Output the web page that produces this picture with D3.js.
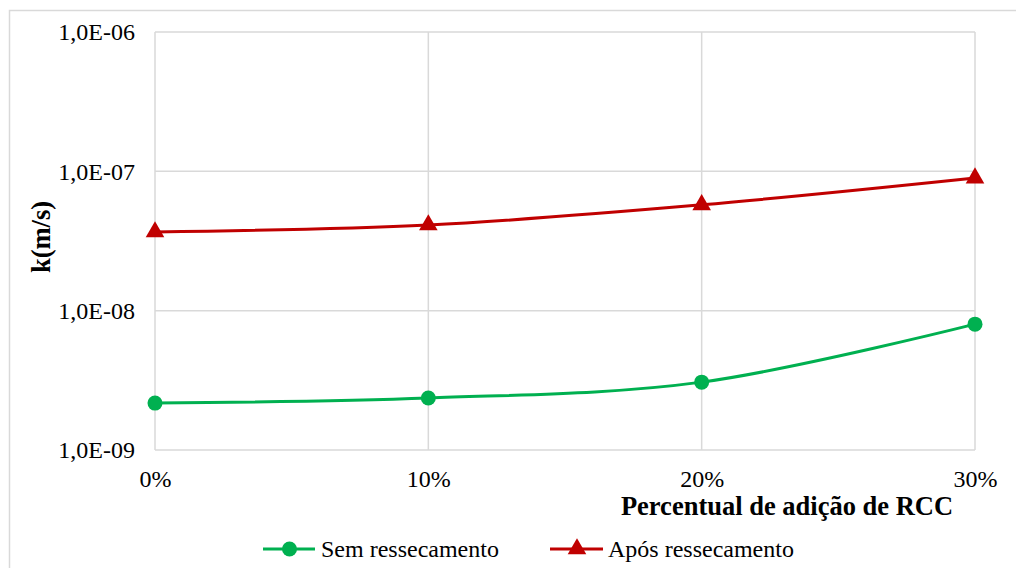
<!DOCTYPE html>
<html>
<head>
<meta charset="utf-8">
<script src="https://cdn.jsdelivr.net/npm/d3@7"></script>
</head>
<body style="margin:0; background:#fff">
<script>
var categories = ["0%", "10%", "20%", "30%"];
var semRessecamento = [2.17e-9, 2.36e-9, 3.07e-9, 8.0e-9];
var aposRessecamento = [3.67e-8, 4.12e-8, 5.75e-8, 8.95e-8];
var yTicks = [1e-9, 1e-8, 1e-7, 1e-6];
var yTickLabels = ["1,0E-09", "1,0E-08", "1,0E-07", "1,0E-06"];

var FONT = "'Liberation Serif', 'Times New Roman', serif";
var W = 1016, H = 568;
var margin = { left: 155, top: 32, right: W - 975, bottom: H - 450 };
var width = W - margin.left - margin.right;
var height = H - margin.top - margin.bottom;

var svg = d3.select("body").append("svg")
  .attr("width", W)
  .attr("height", H);

// outer chart border
svg.append("rect")
  .attr("x", 9.5).attr("y", 10.5)
  .attr("width", W).attr("height", H)
  .attr("fill", "none")
  .attr("stroke", "#d9d9d9")
  .attr("stroke-width", 1.5);

var g = svg.append("g")
  .attr("transform", "translate(" + margin.left + "," + margin.top + ")");

var xScale = d3.scalePoint().domain(categories).range([0, width]);
var yScale = d3.scaleLog().domain([1e-9, 1e-6]).range([height, 0]);

// gridlines
g.append("g").selectAll("line").data(yTicks).join("line")
  .attr("x1", 0).attr("x2", width)
  .attr("y1", d => yScale(d)).attr("y2", d => yScale(d))
  .attr("stroke", "#d9d9d9").attr("stroke-width", 1.5);

g.append("g").selectAll("line").data(categories).join("line")
  .attr("x1", d => xScale(d)).attr("x2", d => xScale(d))
  .attr("y1", 0).attr("y2", height)
  .attr("stroke", "#d9d9d9").attr("stroke-width", 1.5);

// axes (labels only)
var yAxis = d3.axisLeft(yScale)
  .tickValues(yTicks)
  .tickFormat((d, i) => yTickLabels[i])
  .tickSize(0)
  .tickPadding(20);

var yAxisG = g.append("g").call(yAxis);
yAxisG.select(".domain").remove();
yAxisG.selectAll("text")
  .style("font-family", FONT)
  .style("font-size", "24px")
  .attr("fill", "#000");

var xAxis = d3.axisBottom(xScale).tickSize(0).tickPadding(20);

var xAxisG = g.append("g")
  .attr("transform", "translate(0," + height + ")")
  .call(xAxis);
xAxisG.select(".domain").remove();
xAxisG.selectAll("text")
  .style("font-family", FONT)
  .style("font-size", "24px")
  .attr("fill", "#000");

// axis titles
svg.append("text")
  .attr("x", 787).attr("y", 515)
  .attr("text-anchor", "middle")
  .style("font-family", FONT)
  .style("font-weight", "bold")
  .style("font-size", "26.5px")
  .text("Percentual de adição de RCC");

svg.append("text")
  .attr("transform", "translate(50,237) rotate(-90)")
  .attr("text-anchor", "middle")
  .style("font-family", FONT)
  .style("font-weight", "bold")
  .style("font-size", "26.5px")
  .text("k(m/s)");

// series
var line = d3.line()
  .curve(d3.curveCatmullRom.alpha(0))
  .x((d, i) => xScale(categories[i]))
  .y(d => yScale(d));

var green = "#00b050", red = "#c00000";
var triangle = d3.symbol().type(d3.symbolTriangle).size(150);

g.append("path").datum(semRessecamento)
  .attr("d", line)
  .attr("fill", "none").attr("stroke", green).attr("stroke-width", 3);

g.append("g").selectAll("circle").data(semRessecamento).join("circle")
  .attr("cx", (d, i) => xScale(categories[i]))
  .attr("cy", d => yScale(d))
  .attr("r", 7.5)
  .attr("fill", green);

g.append("path").datum(aposRessecamento)
  .attr("d", line)
  .attr("fill", "none").attr("stroke", red).attr("stroke-width", 3);

g.append("g").selectAll("path").data(aposRessecamento).join("path")
  .attr("transform", (d, i) => "translate(" + xScale(categories[i]) + "," + yScale(d) + ")")
  .attr("d", triangle)
  .attr("fill", red);

// legend
var legend = svg.append("g").attr("transform", "translate(0,549)");

legend.append("line")
  .attr("x1", 263).attr("x2", 315).attr("y1", 0).attr("y2", 0)
  .attr("stroke", green).attr("stroke-width", 3);
legend.append("circle").attr("cx", 289.5).attr("cy", 0).attr("r", 7.5).attr("fill", green);
legend.append("text").attr("x", 321).attr("y", 8)
  .style("font-family", FONT).style("font-size", "24px")
  .text("Sem ressecamento");

legend.append("line")
  .attr("x1", 550).attr("x2", 603).attr("y1", 0).attr("y2", 0)
  .attr("stroke", red).attr("stroke-width", 3);
legend.append("path").attr("transform", "translate(577,0)")
  .attr("d", triangle).attr("fill", red);
legend.append("text").attr("x", 608).attr("y", 8)
  .style("font-family", FONT).style("font-size", "24px")
  .text("Após ressecamento");
</script>
</body>
</html>
